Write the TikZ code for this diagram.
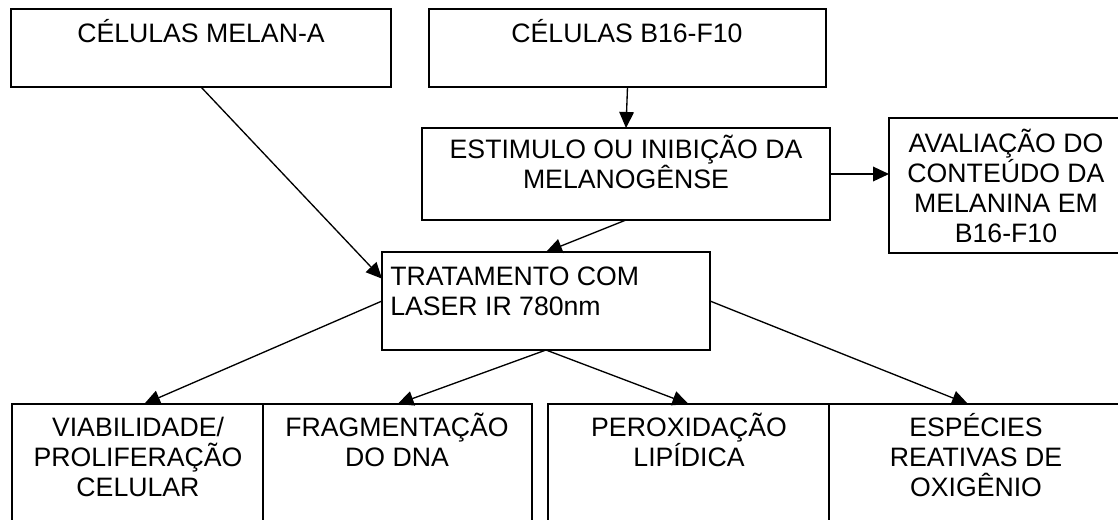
\documentclass[tikz,border=0pt]{standalone}
\usepackage{fontspec}
\setmainfont{Liberation Sans}
\usetikzlibrary{fit,arrows.meta}
\begin{document}
\begin{tikzpicture}[x=0.75pt,y=-0.75pt,
  boxnode/.style={draw,line width=1.3pt,inner sep=0pt,outer sep=0pt},
  txt/.style={font=\fontsize{20pt}{22.5pt}\selectfont,inner sep=0pt,align=center,anchor=base},
  arr/.style={line width=1pt,-{Triangle[length=12pt,width=11pt]}}]
\useasboundingbox (0,0) rectangle (1118,519);
\clip (0,0) rectangle (1118,519);
% boxes
\node[boxnode,fit={(11,9) (391,87)}] (b1) {};
\node[boxnode,fit={(429,9) (826,87)}] (b2) {};
\node[boxnode,fit={(422,128) (830,220)}] (b3) {};
\node[boxnode,fit={(889,118) (1123,253)}] (b4) {};
\node[boxnode,fit={(382,252) (710,350)}] (b5) {};
\node[boxnode,fit={(12,404) (263,560)}] (b6) {};
\node[boxnode,fit={(263,404) (532,560)}] (b7) {};
\node[boxnode,fit={(548,404) (829,560)}] (b8) {};
\node[boxnode,fit={(829,404) (1123,560)}] (b9) {};
% texts (base anchor = baseline of the last line)
\node[txt] (t1) at (201,42) {CÉLULAS MELAN-A};
\node[txt] (t2) at (627,42) {CÉLULAS B16-F10};
\node[txt] (t3) at (626,188) {ESTIMULO OU INIBIÇÃO DA\\MELANOGÊNSE};
\node[txt] (t4) at (1006,242) {AVALIAÇÃO DO\\CONTEÚDO DA\\MELANINA EM\\B16-F10};
\node[txt,align=left,anchor=base west] (t5) at (390,315) {TRATAMENTO COM\\LASER IR 780nm};
\node[txt] (t6) at (138,496) {VIABILIDADE/\\PROLIFERAÇÃO\\CELULAR};
\node[txt] (t7) at (397,466) {FRAGMENTAÇÃO\\DO DNA};
\node[txt] (t8) at (689,466) {PEROXIDAÇÃO\\LIPÍDICA};
\node[txt] (t9) at (976,496) {ESPÉCIES\\REATIVAS DE\\OXIGÊNIO};
% connectors
\draw[arr] (b1.south) -- ([yshift=-20pt]b5.north west);
\draw[arr] (b2.south) -- (b3.north);
\draw[arr] (b3.south) -- (b5.north);
\draw[arr] (b3.east) -- (b3.east -| b4.west);
\draw[arr] (b5.west) -- ([xshift=5pt]b6.north);
\draw[arr] (b5.south) -- (b7.north);
\draw[arr] (b5.south) -- (b8.north);
\draw[arr] (b5.east) -- ([xshift=-6pt]b9.north);
\end{tikzpicture}
\end{document}
